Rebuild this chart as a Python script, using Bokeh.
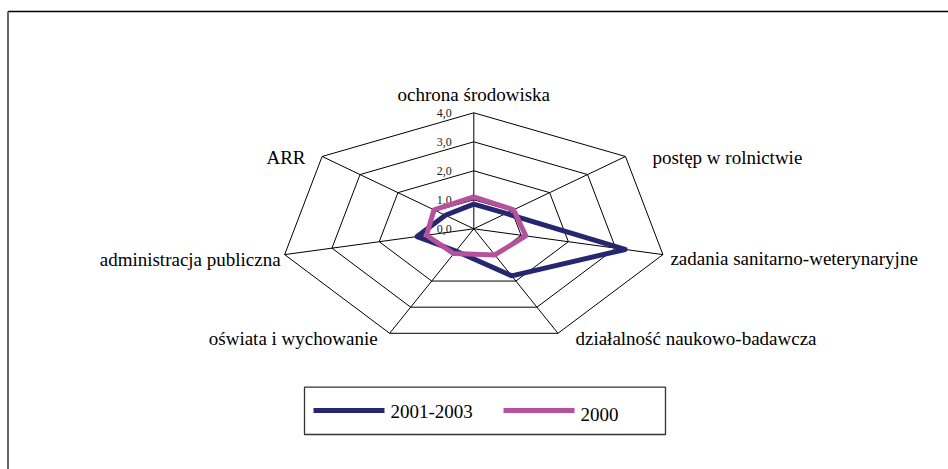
import math
from bokeh.plotting import figure
from bokeh.models import Range1d
from bokeh.core.properties import value
from bokeh.embed import file_html
from bokeh.resources import INLINE

# ---------------- data ----------------
categories = ["ochrona środowiska", "postęp w rolnictwie", "zadania sanitarno-weterynaryjne",
              "działalność naukowo-badawcza", "oświata i wychowanie",
              "administracja publiczna", "ARR"]
series_names = ["2001-2003", "2000"]
values_2001_2003 = [0.85, 0.85, 3.2, 1.8, 0.85, 1.2, 0.75]
values_2000 = [1.1, 1.05, 1.1, 1.0, 0.95, 1.0, 1.05]
tick_values = [0.0, 1.0, 2.0, 3.0, 4.0]
tick_labels = ["0,0", "1,0", "2,0", "3,0", "4,0"]

# ---------------- layout / style ----------------
W, H = 948, 469
CX, CY = 473.3, 228.3          # radar centre (page pixels)
RX, RY = 194.0 / 4, 116.0 / 4   # pixels per unit along x / y
N = len(categories)
FONT = value("Liberation Serif")
NAVY = "#27276F"
PINK = "#B6519E"

label_dx = [0, 27, 7.5, 17.5, -12, -4, -16.6]
label_dy = [-18, 1, 4, 5, 5, 5, 1]
label_align = ["center", "left", "left", "left", "right", "right", "right"]


def pt(v, k):
    th = math.pi / 2 - 2 * math.pi * k / N
    return CX + v * RX * math.cos(th), CY - v * RY * math.sin(th)


p = figure(width=W, height=H, x_range=Range1d(0, W), y_range=Range1d(H, 0),
           output_backend="svg", toolbar_location=None, min_border=0,
           x_axis_type=None, y_axis_type=None)
p.grid.visible = False
p.outline_line_color = None
p.background_fill_color = "white"
p.border_fill_color = "white"

# outer frame (top + left visible)
p.line([7.5, W], [11, 11], line_color="black", line_width=1.5)
p.line([7.5, 7.5], [11, H], line_color="#666666", line_width=2)

# grid rings
vmax = max(tick_values)
ring_xs, ring_ys = [], []
for tv in tick_values[1:]:
    pts = [pt(tv, k) for k in range(N)] + [pt(tv, 0)]
    ring_xs.append([a for a, b in pts])
    ring_ys.append([b for a, b in pts])
p.multi_line(ring_xs, ring_ys, line_color="black", line_width=1)

# spokes
sp_xs, sp_ys = [], []
for k in range(N):
    x1, y1 = pt(vmax, k)
    sp_xs.append([CX, x1])
    sp_ys.append([CY, y1])
p.multi_line(sp_xs, sp_ys, line_color="black", line_width=1)

# tick labels
p.text(x=[CX - 22] * len(tick_values), y=[pt(tv, 0)[1] for tv in tick_values], text=tick_labels,
       text_font=FONT, text_font_size=value("12px"), text_align="right",
       text_baseline="middle", text_color="#222222")

# series
for vals, col in [(values_2001_2003, NAVY), (values_2000, PINK)]:
    pts = [pt(v, k) for k, v in enumerate(vals)] + [pt(vals[0], 0)]
    p.line([a for a, b in pts], [b for a, b in pts], line_color=col, line_width=5,
           line_join="round")

# category labels
for align in ["center", "left", "right"]:
    xs, ys, ts = [], [], []
    for k in range(N):
        if label_align[k] != align:
            continue
        vx, vy = pt(vmax, k)
        xs.append(vx + label_dx[k])
        ys.append(vy + label_dy[k])
        ts.append(categories[k])
    p.text(x=xs, y=ys, text=ts, text_font=FONT, text_font_size=value("19px"),
           text_align=align, text_baseline="middle", text_color="black")

# legend box
LG_L, LG_R, LG_T, LG_B = 304, 665, 386.7, 434
p.quad(left=[LG_L], right=[LG_R], top=[LG_T], bottom=[LG_B], fill_color="white",
       line_color="#333333", line_width=1.3)
leg_x0 = [313, 503]
leg_len = 71
leg_y = [410, 410]
leg_text_y = [410.5, 413.5]
for i, (name, col) in enumerate(zip(series_names, [NAVY, PINK])):
    p.line([leg_x0[i], leg_x0[i] + leg_len], [leg_y[i], leg_y[i]], line_color=col, line_width=5)
    p.text(x=[leg_x0[i] + leg_len + 6], y=[leg_text_y[i]], text=[name], text_font=FONT,
           text_font_size=value("19px"), text_align="left", text_baseline="middle",
           text_color="black")

open("out.html", "w").write(file_html(p, INLINE))
